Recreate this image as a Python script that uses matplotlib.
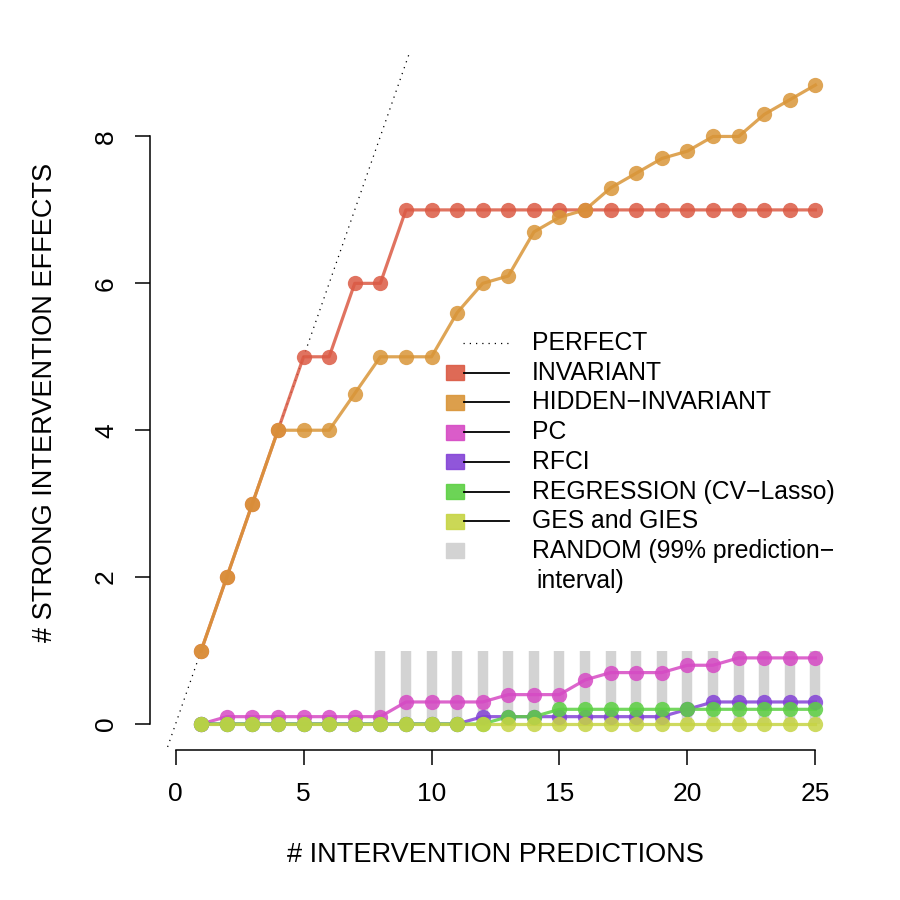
import numpy as np
import matplotlib.pyplot as plt
from matplotlib.lines import Line2D
from matplotlib.patches import Rectangle

plt.rcParams['font.family'] = ['Liberation Sans', 'DejaVu Sans']

# data
k = list(range(1, 26))
invariant = [1, 2, 3, 4, 5, 5, 6, 6, 7, 7, 7, 7, 7, 7, 7, 7, 7, 7, 7, 7, 7, 7, 7, 7, 7]
hidden_inv = [1, 2, 3, 4, 4, 4, 4.5, 5, 5, 5, 5.6, 6, 6.1, 6.7, 6.9, 7.0, 7.3, 7.5, 7.7,
              7.8, 8.0, 8.0, 8.3, 8.5, 8.7]
pc = [0, 0.1, 0.1, 0.1, 0.1, 0.1, 0.1, 0.1, 0.3, 0.3, 0.3, 0.3, 0.4, 0.4, 0.4, 0.6, 0.7,
      0.7, 0.7, 0.8, 0.8, 0.9, 0.9, 0.9, 0.9]
rfci = [0, 0, 0, 0, 0, 0, 0, 0, 0, 0, 0, 0.1, 0.1, 0.1, 0.1, 0.1, 0.1, 0.1, 0.1, 0.2, 0.3,
        0.3, 0.3, 0.3, 0.3]
regression = [0, 0, 0, 0, 0, 0, 0, 0, 0, 0, 0, 0, 0.1, 0.1, 0.2, 0.2, 0.2, 0.2, 0.2, 0.2,
              0.2, 0.2, 0.2, 0.2, 0.2]
ges = [0] * 25

# random 99% prediction interval
rand_k = list(range(8, 26))
rand_lo = [0] * 18
rand_hi = [1] * 18

labels = ['INVARIANT', 'HIDDEN\u2212INVARIANT', 'PC', 'RFCI',
          'REGRESSION (CV\u2212Lasso)', 'GES and GIES']
colors = ['#DB5A44', '#D99538', '#D64AC4', '#8443D6', '#5CD043', '#C6D444']
series = [invariant, hidden_inv, pc, rfci, regression, ges]

fig = plt.figure(figsize=(9, 9), dpi=100)
W = H = 900.0
# plot region in pixels
x0, x1 = 150, 841
y_bot, y_top = 750, 52
ax = fig.add_axes([x0 / W, 1 - y_bot / H, (x1 - x0) / W, (y_bot - y_top) / H])
ax.set_xlim(-1, 26)
ax.set_ylim(-0.354, 9.15)

ax.vlines(rand_k, rand_lo, rand_hi, colors='#D3D3D3', linewidth=7.5, zorder=1)

xx = np.array([-2, 12])
ax.plot(xx, xx, color='black', linestyle=(0, (1, 4)), linewidth=0.9, zorder=2)

for s, c in zip(series, colors):
    ax.plot(k, s, color=c, linewidth=2.3, alpha=0.85, zorder=3)
    ax.plot(k, s, 'o', color=c, markersize=11, markeredgewidth=0, alpha=0.85, zorder=4)

for side in ['top', 'right']:
    ax.spines[side].set_visible(False)
ax.spines['left'].set_bounds(0, 8)
ax.spines['bottom'].set_bounds(0, 25)
ax.spines['left'].set_linewidth(1.1)
ax.spines['bottom'].set_linewidth(1.1)
ax.set_xticks([0, 5, 10, 15, 20, 25])
ax.set_yticks([0, 2, 4, 6, 8])
ax.tick_params(length=11, width=1.1, labelsize=19, pad=12)
plt.setp(ax.get_yticklabels(), rotation=90, va='center')

fig.text(495 / W, 1 - 855 / H, '# INTERVENTION PREDICTIONS', ha='center', va='center', fontsize=19.5)
fig.text(45 / W, 1 - 402 / H, '# STRONG INTERVENTION EFFECTS', ha='center', va='center',
         rotation=90, fontsize=19.5)

# legend
def fy(p):
    return 1 - p / H

row0, step = 343, 29.7
fs = 17.8
fig.add_artist(Line2D([463 / W, 508 / W], [fy(row0), fy(row0)], color='black',
                      linestyle=(0, (1, 4)), linewidth=0.9))
fig.text(532 / W, fy(row0), 'PERFECT', va='center', fontsize=fs)
for i, (lab, c) in enumerate(zip(labels, colors)):
    yc = row0 + step * (i + 1)
    fig.add_artist(Rectangle((446 / W, fy(yc + 7.5)), 18 / W, 15 / H, color=c, alpha=0.9,
                             transform=fig.transFigure))
    fig.add_artist(Line2D([464 / W, 509 / W], [fy(yc), fy(yc)], color='black', linewidth=1.3))
    fig.text(532 / W, fy(yc), lab, va='center', fontsize=fs)
yc = row0 + step * 7
fig.add_artist(Rectangle((446 / W, fy(yc + 7.5)), 18 / W, 15 / H, color='#D3D3D3',
                         transform=fig.transFigure))
fig.text(532 / W, fy(yc), 'RANDOM (99% prediction\u2212', va='center', fontsize=fs)
fig.text(536 / W, fy(yc + step), 'interval)', va='center', fontsize=fs)

fig.savefig('out.png', dpi=100)
